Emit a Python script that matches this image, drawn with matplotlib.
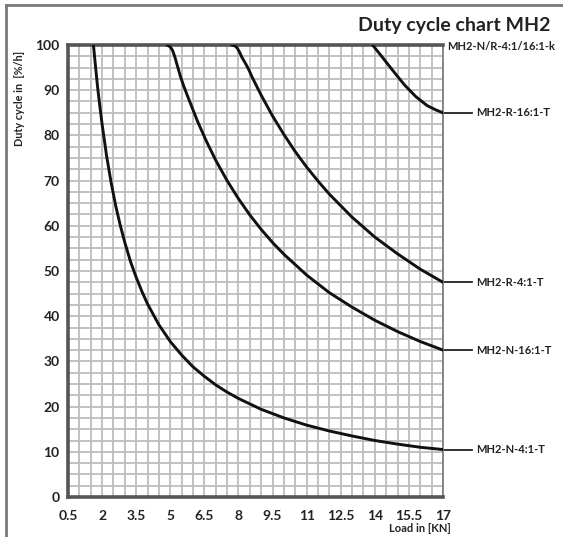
import numpy as np
import matplotlib
matplotlib.use("Agg")
import matplotlib.pyplot as plt
import matplotlib.transforms as mtransforms
from matplotlib.lines import Line2D

plt.rcParams['font.family'] = ['Lato', 'DejaVu Sans']

# ---- data ----
title = "Duty cycle chart MH2"
x_label = "Load in [KN]"
y_label = "Duty cycle in  [%/h]"
x_ticks = [0.5, 2, 3.5, 5, 6.5, 8, 9.5, 11, 12.5, 14, 15.5, 17]
y_ticks = [0, 10, 20, 30, 40, 50, 60, 70, 80, 90, 100]
top_label = "MH2-N/R-4:1/16:1-k"

n41_x = [1.62, 1.7, 1.8, 1.9, 2.0, 2.2, 2.4, 2.6, 2.8, 3.0, 3.25, 3.5, 3.75, 4.0, 4.5,
         5.0, 5.5, 6.0, 6.5, 7.0, 7.5, 8.0, 9.0, 10.0, 11.0, 12.0, 13.0, 14.0, 15.0,
         16.0, 17.0]
n41_y = [100, 95.8, 90.8, 86.5, 82.5, 75.4, 69.5, 64.4, 60.1, 56.3, 52.1, 48.6, 45.5,
         42.7, 38.1, 34.4, 31.4, 28.8, 26.7, 24.8, 23.2, 21.8, 19.4, 17.5, 15.9, 14.6,
         13.5, 12.5, 11.7, 11.0, 10.5]

n161_x = [4.85, 5.0, 5.1, 5.2, 5.3, 5.45, 5.6, 5.8, 6.2, 6.6, 7.0, 7.5, 8.0, 8.5, 9.0,
          9.5, 10.0, 11.0, 12.0, 13.0, 14.0, 15.0, 16.0, 17.0]
n161_y = [100, 99.6, 98.8, 97.4, 95.6, 93, 90.8, 88.2, 83.1, 78.6, 74.5, 70, 66, 62.4,
          59.2, 56.3, 53.7, 49.1, 45.2, 42, 39.1, 36.6, 34.4, 32.5]

r41_x = [7.7, 7.85, 7.95, 8.05, 8.15, 8.3, 8.45, 8.6, 8.8, 9.0, 9.5, 10.0, 10.5, 11.0,
         11.5, 12.0, 13.0, 14.0, 15.0, 16.0, 17.0]
r41_y = [100, 99.8, 99.3, 98.4, 97.3, 96, 94.6, 92.9, 90.9, 88.9, 84.3, 80.2, 76.4, 73,
         69.9, 67, 61.9, 57.5, 53.8, 50.4, 47.5]

r161_x = [13.9, 14.3, 14.8, 15.3, 15.8, 16.3, 16.7, 17.0]
r161_y = [100, 97.5, 94.3, 91.2, 88.6, 86.6, 85.6, 85]

series = [
    ("MH2-N-4:1-T", n41_x, n41_y),
    ("MH2-N-16:1-T", n161_x, n161_y),
    ("MH2-R-4:1-T", r41_x, r41_y),
    ("MH2-R-16:1-T", r161_x, r161_y),
]

# ---- figure ----
W, H = 563, 537
fig = plt.figure(figsize=(W / 100, H / 100), dpi=100)
ax = fig.add_axes([68 / W, 1 - 497 / H, 375 / W, 452 / H])

ax.set_xlim(0.5, 17)
ax.set_ylim(0, 100)
ax.set_xticks(x_ticks)
ax.set_xticklabels([f"{t:g}" for t in x_ticks])
ax.set_yticks(y_ticks)
ax.set_xticks(np.arange(0.5, 17.01, 0.5), minor=True)
ax.set_yticks(np.arange(0, 100.01, 2.5), minor=True)
ax.grid(which='both', color='#bdbdbd', linewidth=1.3)
ax.set_axisbelow(True)
ax.tick_params(which='both', length=0)
ax.tick_params(axis='x', labelsize=10, pad=9)
ax.tick_params(axis='y', labelsize=10, pad=6)
for lab in ax.get_xticklabels() + ax.get_yticklabels():
    lab.set_fontweight('bold')
    lab.set_color('#222222')

for side in ['left', 'bottom', 'top']:
    ax.spines[side].set_color('#555555')
    ax.spines[side].set_linewidth(2.6)
ax.spines['right'].set_color('#777777')
ax.spines['right'].set_linewidth(1.2)

for name, xs, ys in series:
    ax.plot(xs, ys, color='#111111', linewidth=2.1, solid_capstyle='round',
            solid_joinstyle='round', zorder=3)

blend = mtransforms.blended_transform_factory(ax.transAxes, ax.transData)
for name, xs, ys in series:
    yend = ys[-1]
    ax.add_line(Line2D([1.0, 1.077], [yend, yend], transform=blend, color='#222222',
                       linewidth=1.3, clip_on=False))
    ax.text(1.088, yend, name, transform=blend, ha='left', va='center',
            fontsize=8, fontweight='bold', color='#222222')

ax.text(1.01, 99.6, top_label, transform=blend, ha='left', va='center',
        fontsize=8, fontweight='bold', color='#222222')

fig.text(550 / W, 1 - 25 / H, title, ha='right', va='center', fontsize=14,
         fontweight='bold', color='#222222')
fig.text(20 / W, 1 - 98 / H, y_label, rotation=90, ha='center', va='center',
         fontsize=7.8, fontweight='bold', color='#222222')
fig.text(420 / W, 1 - 528 / H, x_label, ha='center', va='center', fontsize=8,
         fontweight='bold', color='#222222')

# outer frame (top and left edges visible)
fig.add_artist(Line2D([6 / W, 1.0], [1 - 5 / H, 1 - 5 / H], transform=fig.transFigure,
                      color='#7a7a7a', linewidth=2))
fig.add_artist(Line2D([6 / W, 6 / W], [0.0, 1 - 5 / H], transform=fig.transFigure,
                      color='#7a7a7a', linewidth=2))

fig.savefig("out.png", dpi=100, facecolor='white')
